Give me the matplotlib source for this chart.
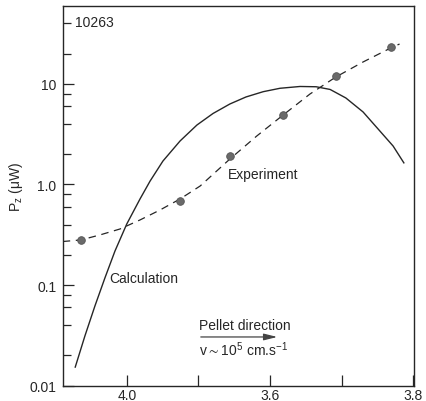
import numpy as np
import matplotlib
matplotlib.use('Agg')
import matplotlib.pyplot as plt

plt.rcParams['font.family'] = ['Liberation Sans', 'DejaVu Sans']
plt.rcParams['font.size'] = 10

# experiment points (v in 1e5 cm/s, P in uW)
exp_v = [4.128, 3.851, 3.712, 3.563, 3.416, 3.263]
exp_p = [0.28, 0.69, 1.92, 4.9, 12.0, 23.0]

# dashed curve through the experiment
fit_v = [4.179, 4.128, 4.075, 4.019, 3.963, 3.907, 3.851, 3.795, 3.712,
         3.637, 3.563, 3.488, 3.416, 3.340, 3.263, 3.238]
fit_p = [0.271, 0.281, 0.315, 0.361, 0.444, 0.558, 0.718, 0.966, 1.79,
         3.03, 4.91, 7.94, 11.7, 16.5, 22.7, 24.9]

# calculation curve
calc_v = [4.144, 4.117, 4.089, 4.061, 4.033, 4.000, 3.963, 3.935, 3.899,
          3.851, 3.804, 3.759, 3.712, 3.667, 3.619, 3.572, 3.516, 3.471,
          3.432, 3.388, 3.340, 3.293, 3.256, 3.226]
calc_p = [0.0153, 0.0312, 0.062, 0.118, 0.218, 0.405, 0.718, 1.08, 1.71,
          2.71, 3.90, 5.08, 6.31, 7.41, 8.36, 9.04, 9.42, 9.36,
          8.80, 7.24, 5.26, 3.40, 2.41, 1.64]

xticks = [4.0, 3.8, 3.6, 3.4, 3.2]
xticklabels = ['4.0', '', '3.6', '', '3.8']
yticks = [0.01, 0.1, 1.0, 10]
yticklabels = ['0.01', '0.1', '1.0', '10']

ink = '#262626'

fig = plt.figure(figsize=(4.26, 4.02), dpi=100)
ax = fig.add_axes([0.1472, 0.0381, 0.8235, 0.9437])

ax.plot(calc_v, calc_p, color=ink, lw=1.0)
ax.plot(fit_v, fit_p, color=ink, lw=0.9, ls=(0, (6, 4.5)))
ax.plot(exp_v, exp_p, 'o', ms=5.5, color='#6a6a6a', mec='#555555', mew=0.6)

ax.set_yscale('log')
ax.set_xlim(4.179, 3.199)
ax.set_ylim(0.01, 59)

ax.set_xticks(xticks)
ax.set_xticklabels(xticklabels)
ax.set_yticks(yticks)
ax.set_yticklabels(yticklabels)
ax.yaxis.set_minor_locator(matplotlib.ticker.LogLocator(base=10, subs=[2, 4, 6, 8]))
ax.yaxis.set_minor_formatter(matplotlib.ticker.NullFormatter())

ax.tick_params(axis='both', which='major', direction='in', length=8,
               width=0.9, color=ink, labelcolor=ink)
ax.tick_params(axis='y', which='minor', direction='in', length=6, width=0.9, color=ink)
ax.tick_params(axis='x', pad=1.5)
ax.tick_params(axis='y', pad=4.5)
for s in ax.spines.values():
    s.set_linewidth(1.0)
    s.set_color(ink)

ax.set_ylabel(r'$\mathregular{P_z}$ ($\mathregular{\mu}$W)', color=ink)
ax.yaxis.set_label_coords(-0.107, 0.526)

ax.text(0.035, 0.9586, '10263', transform=ax.transAxes, ha='left', va='center', color=ink)
ax.text(4.049, 0.118, 'Calculation', ha='left', va='center', color=ink)
ax.text(3.717, 1.27, 'Experiment', ha='left', va='center', color=ink)

ax.text(0.3885, 0.16, 'Pellet direction', transform=ax.transAxes,
        ha='left', va='center', color=ink)
ax.annotate('', xy=(0.6195, 0.1284), xytext=(0.3857, 0.1284),
            xycoords='axes fraction',
            arrowprops=dict(arrowstyle='-|>,head_length=0.8,head_width=0.2',
                            color='#444444', lw=0.9))
ax.text(0.3885, 0.0967, r'v$\mathregular{\sim10^5}$ cm.s$\mathregular{^{-1}}$',
        transform=ax.transAxes, ha='left', va='center', color=ink)

fig.savefig('out.png', dpi=100)
